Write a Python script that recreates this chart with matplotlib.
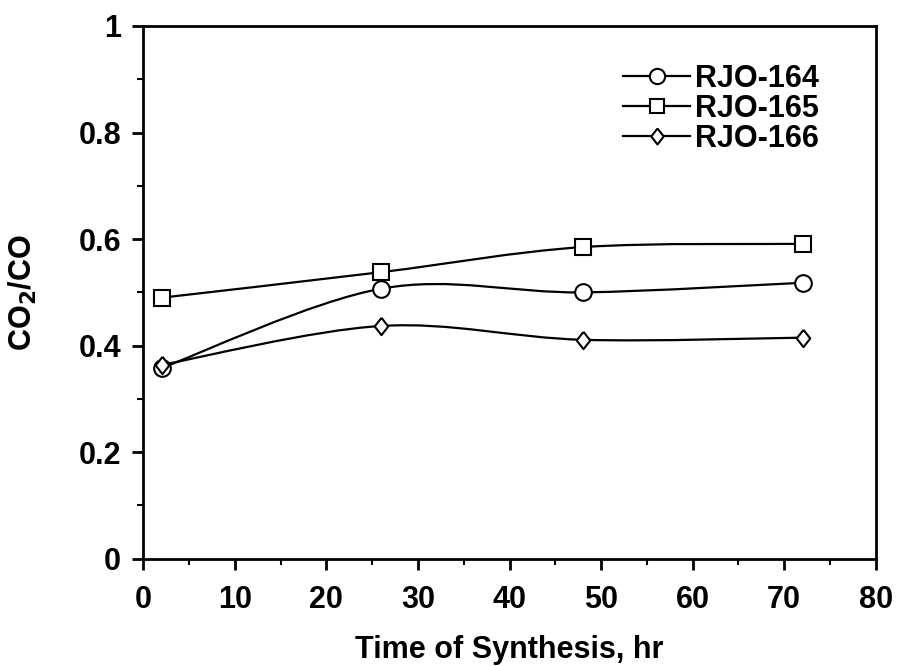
import matplotlib
matplotlib.use("Agg")
import matplotlib.pyplot as plt
from matplotlib.path import Path
from matplotlib.patches import PathPatch
from matplotlib.ticker import MultipleLocator

plt.rcParams['font.family'] = ['Liberation Sans', 'DejaVu Sans']
plt.rcParams['font.weight'] = 'bold'
plt.rcParams['mathtext.default'] = 'bf'

# data
hours = [2, 26, 48, 72]
rjo164 = [0.358, 0.507, 0.500, 0.518]
rjo165 = [0.490, 0.538, 0.585, 0.591]
rjo166 = [0.364, 0.437, 0.411, 0.415]
diamond = [(0, 1), (0.78, 0), (0, -1), (-0.78, 0), (0, 1)]
series = [("RJO-164", rjo164, "o", 12),
          ("RJO-165", rjo165, "s", 11.5),
          ("RJO-166", rjo166, diamond, 12.5)]
xticks = [0, 10, 20, 30, 40, 50, 60, 70, 80]
yticks = [0, 0.2, 0.4, 0.6, 0.8, 1]
ylabels = ["0", "0.2", "0.4", "0.6", "0.8", "1"]


def smooth_path(xs, ys):
    # catmull-rom curve through the points, as bezier segments
    verts = [(xs[0], ys[0])]
    codes = [Path.MOVETO]
    n = len(xs)
    for i in range(n - 1):
        x0, y0 = (xs[i - 1], ys[i - 1]) if i > 0 else (xs[i], ys[i])
        x1, y1 = xs[i], ys[i]
        x2, y2 = xs[i + 1], ys[i + 1]
        x3, y3 = (xs[i + 2], ys[i + 2]) if i + 2 < n else (x2, y2)
        c1 = (x1 + (x2 - x0) / 6, y1 + (y2 - y0) / 6)
        c2 = (x2 - (x3 - x1) / 6, y2 - (y3 - y1) / 6)
        verts += [c1, c2, (x2, y2)]
        codes += [Path.CURVE4] * 3
    return Path(verts, codes)


fig = plt.figure(figsize=(9.01, 6.66), dpi=100)
ax = fig.add_axes([0.159, 0.161, 0.813, 0.800])

for name, vals, mk, ms in series:
    ax.add_patch(PathPatch(smooth_path(hours, vals), facecolor="none",
                           edgecolor="black", lw=1.6, zorder=2))
    ax.plot(hours, vals, ls="none", marker=mk, ms=ms, mfc="white",
            mec="black", mew=1.5, zorder=3)
    # legend handle
    ax.plot([], [], color="black", lw=1.6, marker=mk, ms=ms - 1,
            mfc="white", mec="black", mew=1.5, label=name)

ax.set_xlim(0, 80)
ax.set_ylim(0, 1)
ax.set_xticks(xticks)
ax.set_yticks(yticks)
ax.set_yticklabels(ylabels)
ax.xaxis.set_minor_locator(MultipleLocator(5))
ax.yaxis.set_minor_locator(MultipleLocator(0.1))
ax.tick_params(which="major", direction="out", length=8, width=2,
               labelsize=22, top=False, right=False)
ax.tick_params(which="minor", direction="out", length=4.5, width=1.5,
               top=False, right=False)
ax.tick_params(axis="x", which="major", pad=11)
ax.tick_params(axis="y", which="major", pad=8)
for s in ax.spines.values():
    s.set_linewidth(2)

ax.set_xlabel("Time of Synthesis, hr", fontsize=22, fontweight="bold")
ax.set_ylabel("CO$_2$/CO", fontsize=22, fontweight="bold")
ax.xaxis.set_label_coords(0.5, -0.143)
ax.yaxis.set_label_coords(-0.143, 0.5)

ax.legend(loc="upper left", bbox_to_anchor=(0.655, 0.929), frameon=False,
          fontsize=22, handlelength=2.2, handletextpad=0.15,
          labelspacing=0.0, borderaxespad=0, borderpad=0)

fig.savefig("out.png", dpi=100)
